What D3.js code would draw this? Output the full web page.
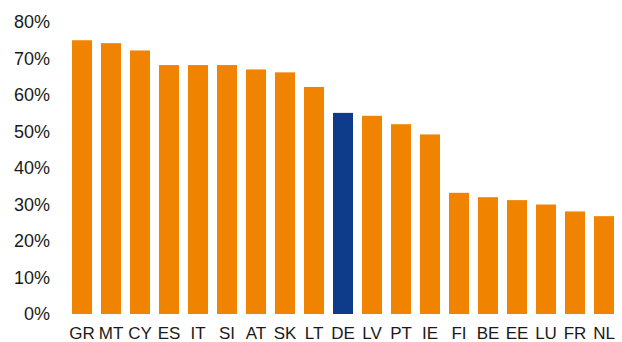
<!DOCTYPE html>
<html>
<head>
<meta charset="utf-8">
<script src="https://cdn.jsdelivr.net/npm/d3@7"></script>
<style>
  body { margin: 0; background: #fff; }
  svg text { font-family: "Liberation Sans", Arial, sans-serif; fill: #1a1a1a; }
</style>
</head>
<body>
<svg width="622" height="342"></svg>
<script>
var countries = ["GR","MT","CY","ES","IT","SI","AT","SK","LT","DE","LV","PT","IE","FI","BE","EE","LU","FR","NL"];
var shares = [75, 74.2, 72.2, 68.2, 68.2, 68.2, 67, 66.2, 62.2, 55.1, 54.3, 52, 49.2, 33.2, 32, 31.2, 30, 28.1, 26.8];
var yTicks = [0, 10, 20, 30, 40, 50, 60, 70, 80];
var highlight = "DE";

var svg = d3.select("svg");

var x = d3.scaleBand()
    .domain(countries)
    .range([67.5, 618.5])
    .paddingInner(0.31)
    .paddingOuter(0.155);

var y = d3.scaleLinear()
    .domain([0, 80])
    .range([314, 22]);

// y axis labels, no line
var yAxis = svg.append("g")
    .attr("transform", "translate(50,0)")
    .call(d3.axisLeft(y).tickValues(yTicks).tickSize(0).tickPadding(0)
      .tickFormat(function(d) { return d + "%"; }));
yAxis.select(".domain").remove();
yAxis.selectAll("text")
    .style("font-size", "18px")
    .attr("fill", "#1a1a1a");

// bars
svg.selectAll(".bar")
  .data(countries)
  .enter().append("rect")
    .attr("class", "bar")
    .attr("x", function(d) { return x(d); })
    .attr("width", x.bandwidth())
    .attr("y", function(d, i) { return y(shares[i]); })
    .attr("height", function(d, i) { return y(0) - y(shares[i]); })
    .attr("fill", function(d) { return d == highlight ? "#0e3c8a" : "#f08300"; });

// x axis labels
var xAxis = svg.append("g")
    .attr("transform", "translate(0,325)")
    .call(d3.axisBottom(x).tickSize(0).tickPadding(2));
xAxis.select(".domain").remove();
xAxis.selectAll("text")
    .style("font-size", "17px")
    .attr("fill", "#1a1a1a");
</script>
</body>
</html>
